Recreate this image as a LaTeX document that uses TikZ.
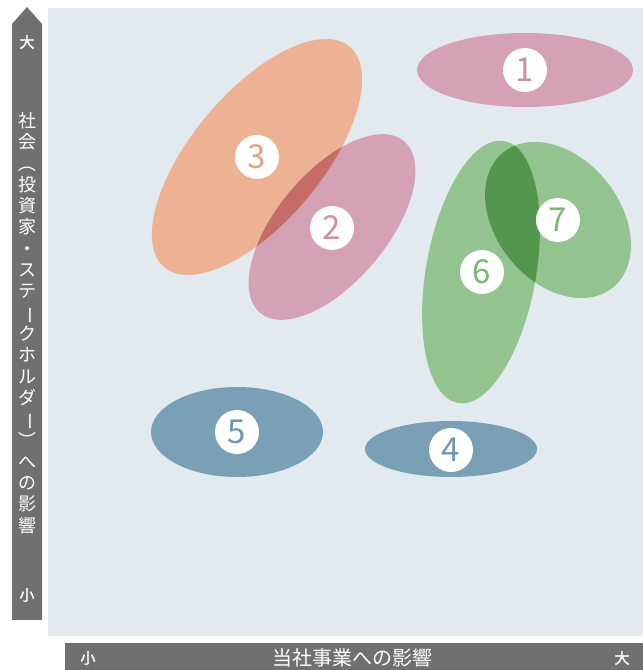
\documentclass[tikz,border=0pt]{standalone}
\usepackage{fontspec}
\usepackage{graphicx}
\setmainfont{Noto Sans CJK JP}
\newfontfamily\boldcjk[FakeBold=1.6]{Noto Sans CJK JP}
\definecolor{bgc}{HTML}{E2EAF0}
\definecolor{barc}{HTML}{707070}
\definecolor{pinkc}{HTML}{D5A2B5}
\definecolor{pinkn}{HTML}{CD8FA6}
\definecolor{orangec}{HTML}{EDB194}
\definecolor{orangen}{HTML}{E9A07F}
\definecolor{ovred}{HTML}{C66C66}
\definecolor{greenc}{HTML}{93C38E}
\definecolor{greenn}{HTML}{7DB679}
\definecolor{ovgreen}{HTML}{55964F}
\definecolor{bluec}{HTML}{7AA0B5}
\definecolor{bluen}{HTML}{6F96AE}
\newcommand{\rotch}[1]{\rotatebox[origin=c]{-90}{#1}}
\begin{document}
\begin{tikzpicture}[x=1pt,y=1pt,
  numc/.style={circle, fill=white, minimum size=44pt, inner sep=0pt, font=\fontsize{33}{33}\selectfont},
  lab/.style={text=white, inner sep=0pt, font=\fontsize{16}{16}\selectfont},
  endlab/.style={text=white, inner sep=0pt, font=\boldcjk\fontsize{15}{15}\selectfont}]
\useasboundingbox (0,0) rectangle (643,670);
% panel and axes
\fill[bgc] (48,34) rectangle (643,662);
\fill[barc] (12,50) -- (12,646) -- (27,663) -- (42,646) -- (42,50) -- cycle;
\fill[barc] (65,0) rectangle (643,27);
% ellipses
\fill[pinkc] (525,600) ellipse [x radius=108, y radius=37];
\fill[orangec, rotate around={50:(257,513)}] (257,513) ellipse [x radius=144, y radius=65];
\fill[pinkc, rotate around={50:(332,443)}] (332,443) ellipse [x radius=112, y radius=55];
\begin{scope}
  \clip[rotate around={50:(257,513)}] (257,513) ellipse [x radius=144, y radius=65];
  \fill[ovred, rotate around={50:(332,443)}] (332,443) ellipse [x radius=112, y radius=55];
\end{scope}
\fill[greenc, rotate around={80:(481,398)}] (481,398) ellipse [x radius=133, y radius=55];
\fill[greenc, rotate around={-51:(558,450)}] (558,450) ellipse [x radius=87, y radius=62];
\begin{scope}
  \clip[rotate around={80:(481,398)}] (481,398) ellipse [x radius=133, y radius=55];
  \fill[ovgreen, rotate around={-51:(558,450)}] (558,450) ellipse [x radius=87, y radius=62];
\end{scope}
\fill[bluec] (237,238) ellipse [x radius=86, y radius=45];
\fill[bluec] (451,221) ellipse [x radius=86, y radius=28];
% number markers
\node[numc, text=pinkn] (n1) at (525,600) {1};
\node[numc, text=pinkn] (n2) at (332,442) {2};
\node[numc, text=orangen] (n3) at (257,513) {3};
\node[numc, text=bluen] (n4) at (451,220) {4};
\node[numc, text=bluen] (n5) at (237,238) {5};
\node[numc, text=greenn] (n6) at (482,398) {6};
\node[numc, text=greenn] (n7) at (558,450) {7};
% axis labels
\node[endlab] (ytop) at (27,628) {大};
\node[endlab] (ybot) at (27,75) {小};
\node[lab, align=center, font=\fontsize{18}{21.3}\selectfont] (ytitle) at (27,347)
  {社\\会\\\rotch{（}\\投\\資\\家\\・\\ス\\テ\\\rotch{ー}\\ク\\ホ\\ル\\ダ\\\rotch{ー}\\\rotch{）}\\へ\\の\\影\\響};
\node[endlab] (xl) at (88,12) {小};
\node[lab, font=\fontsize{20}{20}\selectfont] (xtitle) at (352,12) {当社事業への影響};
\node[endlab] (xr) at (622,12) {大};
\end{tikzpicture}
\end{document}
